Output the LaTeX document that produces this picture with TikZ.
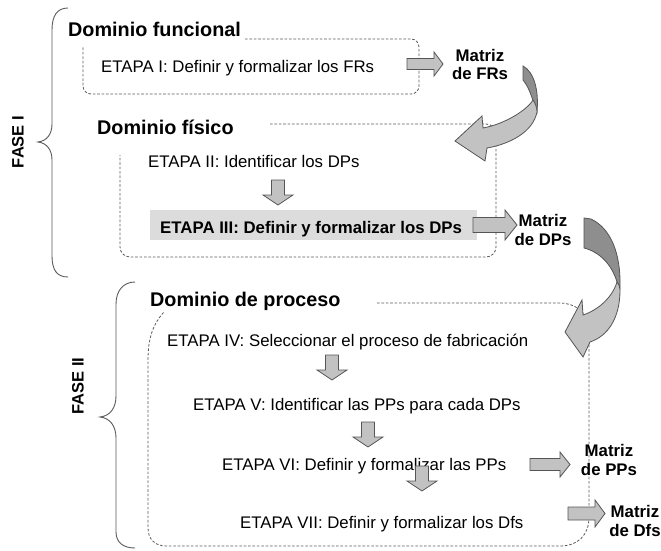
\documentclass[tikz,border=0pt]{standalone}
\usepackage{fontspec}
\setmainfont{Liberation Sans}
\definecolor{dashgray}{HTML}{5C5C5C}
\definecolor{arrowfill}{HTML}{C2C2C2}
\definecolor{arrowdark}{HTML}{8E8E8E}
\definecolor{arrowedge}{HTML}{555555}
\definecolor{hilite}{HTML}{DCDCDC}
\definecolor{bracegray}{HTML}{5A5A5A}
\tikzset{
  dashbox/.style={draw=dashgray, line width=0.8pt, dash pattern=on 2.6pt off 1.8pt},
  blockarrow/.style={draw=arrowedge, fill=arrowfill, line width=0.8pt, line join=miter},
  backface/.style={draw=arrowedge, fill=arrowdark, line width=0.8pt},
  frontface/.style={draw=arrowedge, fill=arrowfill, line width=0.8pt},
  bracepath/.style={draw=bracegray, line width=0.9pt},
  etapa/.style={font=\fontsize{16.8}{20}\selectfont, anchor=base west, inner sep=0pt},
  etapabold/.style={font=\bfseries\fontsize{16.8}{20}\selectfont, anchor=base west, inner sep=0pt},
  domtitle/.style={font=\bfseries\fontsize{19.8}{23}\selectfont, anchor=base west, inner sep=0pt},
  matlabel/.style={font=\bfseries\fontsize{16.8}{18.5}\selectfont, align=center, anchor=base, inner sep=0pt},
  faselabel/.style={font=\bfseries\fontsize{16.5}{19}\selectfont, rotate=90, inner sep=0pt}
}
% straight block arrow pointing right: start x, head base x, tip x, centre y, shaft half width, head half width
\newcommand\blockright[6]{%
  \draw[blockarrow] (#1,#4-#5) -- (#2,#4-#5) -- (#2,#4-#6) -- (#3,#4)
    -- (#2,#4+#6) -- (#2,#4+#5) -- (#1,#4+#5) -- cycle;}
% straight block arrow pointing down: centre x, top y
\newcommand\blockdown[2]{%
  \draw[blockarrow] (#1-6.5,#2) -- (#1+6.5,#2) -- (#1+6.5,#2+15) -- (#1+15,#2+15)
    -- (#1,#2+25) -- (#1-15,#2+15) -- (#1-6.5,#2+15) -- cycle;}
\begin{document}
\begin{tikzpicture}[x=1pt,y=-1pt]
\useasboundingbox (0,0) rectangle (661,551);
\fill[white] (0,0) rectangle (661,551);

% phase braces
\draw[bracepath] (68,8) .. controls (57,8) and (52,16) .. (52,30) -- (52,124)
  .. controls (52,134) and (47,141) .. (38,142)
  .. controls (47,143) and (52,150) .. (52,160) -- (52,256)
  .. controls (52,270) and (57,277) .. (68,277);
\draw[bracepath] (135,282) .. controls (124,282) and (116,290) .. (116,304) -- (116,396)
  .. controls (116,408) and (110,416) .. (100,417)
  .. controls (110,418) and (116,426) .. (116,438) -- (116,532)
  .. controls (116,543) and (124,548) .. (135,548);
\node[faselabel] (f1) at (18,142) {FASE I};
\node[faselabel] (f2) at (78,386) {FASE II};

% domain frames
\draw[dashbox, rounded corners=8] (245,39) -- (419,39) -- (419,94) -- (83,94) -- (83,47);
\draw[dashbox, rounded corners=10] (270,124) -- (496,124) -- (496,257) -- (120,257) -- (120,155);
\draw[dashbox] (377,303) -- (560,303) .. controls (574,303) and (589,312) .. (589,330)
  -- (589,517) .. controls (589,535) and (578,546) .. (560,546) -- (166,546)
  .. controls (155,546) and (148,539) .. (148,528) -- (148,360)
  .. controls (148,338) and (153,324) .. (164,312);

% highlighted step
\fill[hilite] (150,210) rectangle (477,240);

% titles and steps
\node[domtitle] (t1) at (68,37) {Dominio funcional};
\node[domtitle] (t2) at (97,134) {Dominio físico};
\node[domtitle] (t3) at (150,306) {Dominio de proceso};
\node[etapa] (e1) at (101,73) {ETAPA I: Definir y formalizar los FRs};
\node[etapa] (e2) at (148,167) {ETAPA II: Identificar los DPs};
\node[etapabold] (e3) at (160,233) {ETAPA III: Definir y formalizar los DPs};
\node[etapa] (e4) at (167,346) {ETAPA IV: Seleccionar el proceso de fabricación};
\node[etapa] (e5) at (193,410) {ETAPA V: Identificar las PPs para cada DPs};
\node[etapa] (e6) at (222,470) {ETAPA VI: Definir y formalizar las PPs};
\node[etapa] (e7) at (240,528) {ETAPA VII: Definir y formalizar los Dfs};

% output matrices (base = baseline of the second line)
\node[matlabel] (m1) at (480,80) {Matriz\\de FRs};
\node[matlabel] (m2) at (543,245) {Matriz\\de DPs};
\node[matlabel] (m3) at (609,475) {Matriz\\de PPs};
\node[matlabel] (m4) at (635,536) {Matriz\\de Dfs};

% block arrows
\blockright{407}{434}{443}{64}{5.5}{12}
\blockright{473}{505}{517}{225}{7.5}{15}
\blockright{530}{560}{570}{464.5}{6}{12.5}
\blockright{568}{595}{605}{513.5}{6.5}{13.5}
\blockdown{278}{180}
\blockdown{332}{355}
\blockdown{368}{422}
\blockdown{422}{466}

% curved arrow: functional -> physical domain
\draw[backface] (523,66) .. controls (534,72) and (539,90) .. (537,112)
  -- (534,104) .. controls (531,94) and (528,86) .. (523,80) -- cycle;
\draw[frontface, line join=miter] (533,100) .. controls (527,110) and (505,124) .. (483,128)
  -- (482,116) -- (455,141) -- (485,161) -- (487,148)
  .. controls (510,144) and (533,132) .. (537,112)
  .. controls (537,107) and (535,103) .. (533,100) -- cycle;

% curved arrow: physical -> process domain
\draw[backface] (584,218) -- (591,219) .. controls (610,228) and (621,252) .. (620,288)
  -- (617,282) .. controls (612,265) and (600,252) .. (584,248) -- cycle;
\draw[frontface, line join=miter] (617,282) .. controls (612,298) and (598,310) .. (583,315)
  -- (582,300) -- (565,332) -- (583,357) -- (590,342)
  .. controls (608,336) and (620,318) .. (620,290)
  .. controls (620,287) and (619,284) .. (617,282) -- cycle;
\end{tikzpicture}
\end{document}
